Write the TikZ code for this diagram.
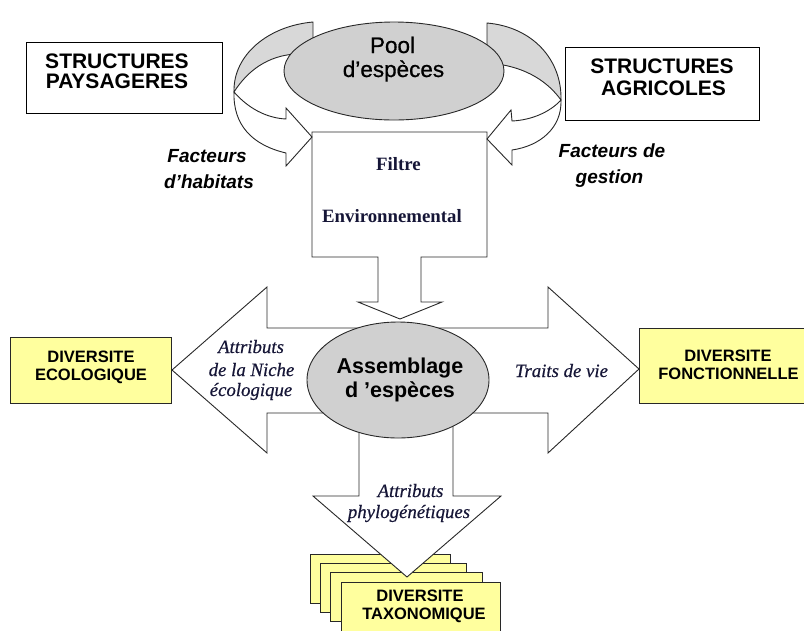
\documentclass[tikz,border=0pt]{standalone}
\usepackage{fontspec}
\setmainfont{Liberation Serif}
\newfontfamily\arialf{Liberation Sans}
\newfontfamily\arialemb{Liberation Sans}[FakeBold=0.7]
\newfontfamily\timesitemb{Liberation Serif Italic}[FakeBold=0.5]
\usetikzlibrary{shapes.geometric}
\definecolor{ellfill}{RGB}{208,208,208}
\definecolor{bandfill}{RGB}{216,216,216}
\definecolor{paleyellow}{RGB}{255,255,158}
\definecolor{edgecol}{RGB}{40,40,40}
\definecolor{navyink}{RGB}{22,22,55}
\begin{document}
\begin{tikzpicture}[x=1pt,y=-1pt,
  outl/.style={draw=edgecol,line width=0.9pt,line join=miter},
  whitebox/.style={draw=black,line width=1pt,fill=white,inner sep=0pt},
  ybox/.style={draw=edgecol,line width=0.9pt,fill=paleyellow,inner sep=0pt},
  grayell/.style={ellipse,draw=edgecol,line width=0.9pt,fill=ellfill,inner sep=0pt},
  lbl/.style={anchor=base,inner sep=0pt},
  structtxt/.style={lbl,font=\arialf\bfseries\fontsize{21}{24}\selectfont},
  factxt/.style={lbl,font=\arialf\bfseries\itshape\fontsize{19}{22}\selectfont},
  ytxt/.style={lbl,font=\arialf\bfseries\fontsize{16.5}{19}\selectfont},
  itxt/.style={lbl,text=navyink,font=\timesitemb\fontsize{18.8}{21}\selectfont},
  ftxt/.style={lbl,text=navyink,font=\bfseries\fontsize{18.8}{21}\selectfont}
]
\useasboundingbox (0,0) rectangle (804,630);

% stacked taxonomic boxes
\node[ybox,minimum width=140pt,minimum height=49pt] (tax1) at (380,578.5) {};
\node[ybox,minimum width=146pt,minimum height=49pt] (tax2) at (393,587.5) {};
\node[ybox,minimum width=152pt,minimum height=49pt] (tax3) at (406,597) {};

% horizontal double block arrow
\draw[outl,fill=white] (172,370) -- (267,287) -- (267,328) -- (548,328) -- (548,287)
  -- (639,369) -- (548,453) -- (548,413) -- (267,413) -- (267,453) -- cycle;
% down block arrow
\draw[outl,fill=white] (359,400) -- (359,496) -- (313,496) -- (407,577) -- (501,496)
  -- (453,496) -- (453,400) -- cycle;
\node[ybox,minimum width=159pt,minimum height=49pt] (tax4) at (420.5,606.5) {};

% filter callout
\draw[outl,fill=white] (312,132) -- (487,132) -- (487,257) -- (421,257) -- (421,302)
  -- (442,302) -- (400,319) -- (358,302) -- (378,302) -- (378,257) -- (312,257) -- cycle;

% left curved arrow
\draw[outl,fill=bandfill] (313,22) .. controls (268,26) and (233,55) .. (234,92)
  .. controls (248,70) and (268,56) .. (295,54) -- (313,45) -- cycle;
\draw[outl,fill=white] (234,92) .. controls (248,108) and (266,118) .. (286,119)
  -- (286,108) -- (312,137) -- (286,166) -- (286,153)
  .. controls (252,145) and (233,125) .. (234,92) -- cycle;
% right curved arrow
\draw[outl,fill=bandfill] (487,23) .. controls (533,27) and (562,60) .. (561,100)
  .. controls (548,82) and (527,68) .. (497,64) -- (487,45) -- cycle;
\draw[outl,fill=white] (561,100) .. controls (550,112) and (532,120) .. (512,121)
  -- (511,110) -- (487,139) -- (512,165) -- (512,150)
  .. controls (540,146) and (562,128) .. (561,100) -- cycle;

% ellipses
\node[grayell,minimum width=220pt,minimum height=98pt] (pool) at (394,71) {};
\node[grayell,minimum width=182pt,minimum height=116pt] (assem) at (398,380) {};

% boxes
\node[whitebox,minimum width=196pt,minimum height=71pt] (paysbox) at (124,77.5) {};
\node[whitebox,minimum width=194pt,minimum height=73pt] (agribox) at (662,83.5) {};
\node[ybox,minimum width=161pt,minimum height=66pt] (ecobox) at (90.5,370) {};
\node[ybox,minimum width=178pt,minimum height=75pt] (foncbox) at (728,365.5) {};

% texts
\node[structtxt] (pays1) at (117,68) {STRUCTURES};
\node[structtxt] (pays2) at (117,88) {PAYSAGERES};
\node[structtxt] (agri1) at (662,73) {STRUCTURES};
\node[structtxt] (agri2) at (663.5,95) {AGRICOLES};

\node[lbl,font=\arialemb\fontsize{22.5}{25}\selectfont] (pool1) at (392.5,53) {Pool};
\node[lbl,font=\arialemb\fontsize{22.5}{25}\selectfont] (pool2) at (393.5,77) {d’espèces};

\node[factxt] (fh1) at (207,162) {Facteurs};
\node[factxt] (fh2) at (209,188) {d’habitats};
\node[factxt] (fg1) at (612,157) {Facteurs de};
\node[factxt] (fg2) at (609.5,183) {gestion};

\node[ftxt] (filt1) at (398.5,170) {Filtre};
\node[ftxt] (filt2) at (392,222) {Environnemental};

\node[lbl,font=\arialf\bfseries\fontsize{21.5}{24}\selectfont] (as1) at (400,373) {Assemblage};
\node[lbl,font=\arialf\bfseries\fontsize{21.5}{24}\selectfont] (as2) at (400,397) {d ’espèces};

\node[itxt] (ni1) at (251,353) {Attributs};
\node[itxt] (ni2) at (251.5,376) {de la Niche};
\node[itxt] (ni3) at (251,396) {écologique};
\node[itxt] (tv) at (561.5,377) {Traits de vie};
\node[itxt] (ph1) at (410.5,497) {Attributs};
\node[itxt] (ph2) at (409,518) {phylogénétiques};

\node[ytxt] (eco1) at (91,362) {DIVERSITE};
\node[ytxt] (eco2) at (91,380) {ECOLOGIQUE};
\node[ytxt] (fon1) at (728,361) {DIVERSITE};
\node[ytxt] (fon2) at (728.5,379) {FONCTIONNELLE};
\node[ytxt] (tax1t) at (420,601) {DIVERSITE};
\node[ytxt] (tax2t) at (424,619) {TAXONOMIQUE};
\end{tikzpicture}
\end{document}
